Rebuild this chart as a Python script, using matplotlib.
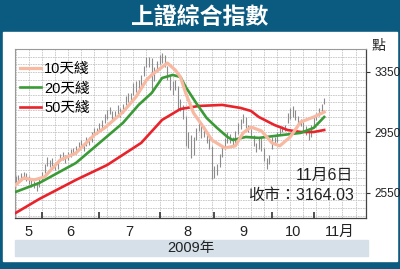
import numpy as np
import pandas as pd
import matplotlib
matplotlib.use('Agg')
import matplotlib.pyplot as plt
from matplotlib.patches import Rectangle

# === Data === #

# Shanghai trading calendar, mid May to 6 Nov 2009
holidays = ['2009-05-28', '2009-05-29', '2009-10-01', '2009-10-02',
            '2009-10-05', '2009-10-06', '2009-10-07', '2009-10-08']
days = pd.bdate_range('2009-05-14', '2009-11-06')
days = days[~days.isin(pd.to_datetime(holidays))]

# daily highs / lows (one per trading day)
highs = [2660, 2670, 2680, 2690, 2680, 2660, 2640, 2630, 2620, 2650,
         2690, 2740, 2790, 2770, 2780, 2750, 2770, 2810, 2820, 2800,
         2820, 2840, 2850, 2860, 2890, 2900, 2880, 2920, 2920, 2950,
         2980, 2980,
         3010, 3030, 3070, 3100, 3120, 3090, 3090, 3130, 3110, 3140,
         3190, 3210, 3210, 3280, 3290, 3300, 3330, 3390, 3450, 3450,
         3440, 3380, 3420,
         3465, 3478, 3460, 3390, 3320, 3290, 3300, 3260, 3170, 3130,
         3060, 2950, 2930, 2920, 2980, 3020, 3010, 2990, 2960, 2910,
         2860,
         2730, 2740, 2810, 2870, 2910, 2950, 2940, 2920, 2960, 3010,
         3040, 3070, 3050, 3000, 2970, 2930, 2880, 2920, 2910, 2850,
         2780, 2800,
         2920, 2920, 2950, 2980, 2990, 3000, 3080, 3110, 3123, 3100,
         3060, 3040, 3020, 2990, 2960, 3000,
         3050, 3080, 3110, 3140, 3180]
lows = [2610, 2620, 2630, 2640, 2630, 2610, 2590, 2580, 2565, 2590,
        2630, 2680, 2730, 2720, 2730, 2700, 2710, 2760, 2770, 2750,
        2770, 2790, 2800, 2810, 2840, 2850, 2830, 2860, 2870, 2890,
        2930, 2940,
        2950, 2980, 3010, 3040, 3070, 3030, 3040, 3070, 3050, 3080,
        3130, 3150, 3150, 3200, 3220, 3230, 3260, 3320, 3380, 3380,
        3220, 3290, 3350,
        3400, 3410, 3380, 3300, 3230, 3200, 3230, 3100, 3090, 3040,
        2860, 2850, 2780, 2800, 2900, 2960, 2910, 2920, 2880, 2840,
        2639,
        2650, 2670, 2720, 2790, 2840, 2880, 2880, 2860, 2880, 2940,
        2970, 3010, 2980, 2950, 2910, 2860, 2820, 2840, 2830, 2760,
        2710, 2740,
        2840, 2870, 2890, 2930, 2950, 2960, 3010, 3040, 3050, 3030,
        3000, 2990, 2960, 2930, 2900, 2920,
        2990, 3030, 3060, 3090, 3140]

# moving average lines, vertices by trading day number
ma10_day = [0, 3, 7, 11, 17, 23, 30, 34, 41, 46, 50, 52, 58, 61, 63, 65,
            68, 72, 75, 80, 84, 87, 90, 94, 98, 101, 105, 109, 114, 118]
ma10_val = [2603, 2649, 2636, 2656, 2768, 2814, 2933, 2980, 3085, 3185,
            3297, 3330, 3409, 3363, 3317, 3211, 3079, 2980, 2900, 2847,
            2861, 2947, 2986, 2960, 2881, 2861, 2920, 3019, 3052, 3085]

ma20_day = [0, 9, 23, 41, 47, 52, 56, 60, 63, 65, 69, 73, 77, 81, 83, 88,
            93, 102, 109, 114, 118]
ma20_val = [2557, 2616, 2748, 3013, 3132, 3211, 3310, 3330, 3317, 3251,
            3145, 3046, 2980, 2920, 2900, 2920, 2914, 2933, 2947, 2980,
            3052]

ma50_day = [0, 9, 23, 35, 48, 56, 63, 70, 79, 86, 90, 93, 99, 104, 109,
            114, 118]
ma50_val = [2418, 2510, 2636, 2735, 2881, 3033, 3105, 3125, 3132, 3112,
            3092, 3052, 2999, 2966, 2953, 2953, 2966]

y_ticks = [2550, 2950, 3350]
month_names = ['5', '6', '7', '8', '9', '10', '11月']
legend_names = ['10天綫', '20天綫', '50天綫']

# === Styling === #
navy = '#0b5a80'
latin = ['Liberation Sans', 'Noto Sans CJK TC']
cjk = ['Noto Sans CJK TC', 'Liberation Sans']
x_lim = (-0.3, 134)

fig = plt.figure(figsize=(4.0, 2.69), dpi=100, facecolor=navy)

# white panel and year band (kept below the axes)
fig.patches.append(Rectangle((0.0075, 0.03), 0.985, 0.851,
                             transform=fig.transFigure, color='white',
                             zorder=-5))
fig.patches.append(Rectangle((0.0375, 0.05), 0.8825, 0.058,
                             transform=fig.transFigure, color='#d5e0e9',
                             zorder=-4))
fig.text(0.5, 0.935, '上證綜合指數', color='white', fontsize=16.5,
         fontweight='bold', family=cjk, ha='center', va='center')
fig.text(0.478, 0.078, '2009年', fontsize=10.5, family=latin,
         ha='center', va='center', color='#222222')
fig.text(0.947, 0.828, '點', fontsize=10, family=cjk,
         ha='center', va='center', color='#222222')

ax = fig.add_axes([0.0375, 0.19, 0.8775, 0.628])
ax.set_facecolor('white')

x = np.arange(len(days))
ax.vlines(x, lows, highs, color='#8c8c8c', lw=0.8, zorder=2)

l50, = ax.plot(ma50_day, ma50_val, color='#e8232b', lw=1.9, zorder=3)
l20, = ax.plot(ma20_day, ma20_val, color='#3a9a35', lw=1.9, zorder=4)
l10, = ax.plot(ma10_day, ma10_val, color='#f7b9a1', lw=2.3, zorder=5)

ax.set_xlim(*x_lim)
ax.set_ylim(2385, 3502)

# grid: weekly vertical, horizontal lines
for gx in np.arange(0, 135, 5):
    ax.axvline(gx, color='#c4c4c4', lw=0.6, ls=(0, (2, 1)), zorder=1)
for gy in np.arange(2400, 3501, 50):
    ax.axhline(gy, color='#c4c4c4', lw=0.6, ls=(0, (2, 1)), zorder=1)

# month boundaries and labels
months = days.to_period('M')
starts = [i for i in range(1, len(days)) if months[i] != months[i - 1]]
ax.set_xticks(starts)
ax.set_xticklabels([])
ax.tick_params(axis='x', which='major', direction='in', length=4,
               width=1.2, color='#333333')
edges = [x_lim[0]] + starts + [x_lim[1]]
for k, name in enumerate(month_names):
    ax.text((edges[k] + edges[k + 1]) / 2, -0.04, name, fontsize=10.5,
            family=latin, ha='center', va='top',
            transform=ax.get_xaxis_transform(), color='#222222')

ax.yaxis.tick_right()
ax.set_yticks(y_ticks)
ax.set_yticklabels([str(v) for v in y_ticks], fontsize=8.5, family=latin,
                   color='#222222')
ax.tick_params(axis='y', direction='out', length=3, color='#333333', pad=3)

for side in ['left', 'top']:
    ax.spines[side].set_color('#9a9a9a')
    ax.spines[side].set_linewidth(0.8)
for side in ['right', 'bottom']:
    ax.spines[side].set_color('#444444')
    ax.spines[side].set_linewidth(0.9)

ax.legend([l10, l20, l50], legend_names, loc='upper left',
          bbox_to_anchor=(0.015, 0.92), frameon=False, borderpad=0,
          borderaxespad=0, handlelength=1.4, handletextpad=0.25,
          labelspacing=0.35, prop={'family': latin, 'size': 10.5})

ax.text(0.965, 0.252, '11月6日', fontsize=11.5, family=latin, ha='right',
        va='center', transform=ax.transAxes, color='#222222')
ax.text(0.965, 0.132, '收市：3164.03', fontsize=11.5, family=latin,
        ha='right', va='center', transform=ax.transAxes, color='#222222')

fig.savefig('out.png', dpi=100, facecolor=navy)
